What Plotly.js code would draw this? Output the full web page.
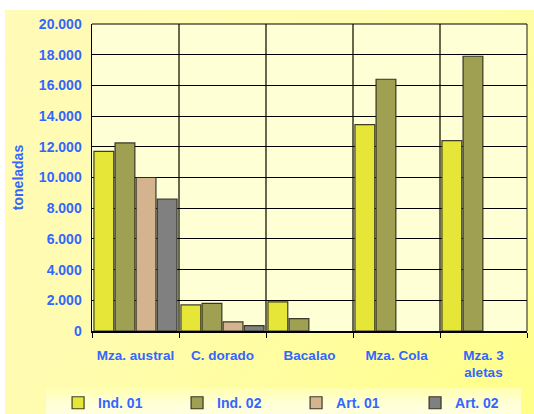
<!DOCTYPE html>
<html>
<head>
<meta charset="utf-8">
<script src="https://cdn.plot.ly/plotly-3.0.1.min.js"></script>
<style>
  html, body { margin:0; padding:0; background:#fff; }
  #bg { position:absolute; left:5px; top:10px; width:529px; height:404px;
        background: linear-gradient(135deg, #fffbb8 0%, #fffcb0 45%, #ffff88 100%); }
  #band { position:absolute; left:46px; top:388px; width:475px; height:26px;
          background: linear-gradient(180deg, #ffffb0 0%, #ffffd8 60%, #ffffe0 100%); }
  #chart { position:absolute; left:0; top:0; width:534px; height:414px; }
</style>
</head>
<body>
<div id="bg"></div>
<div id="band"></div>
<div id="chart"></div>
<script>
const categories = ["Mza. austral", "C. dorado", "Bacalao", "Mza. Cola", "Mza. 3<br>aletas"];
const seriesNames = ["Ind. 01", "Ind. 02", "Art. 01", "Art. 02"];
const ind01 = [11700, 1700, 1900, 13450, 12400];
const ind02 = [12250, 1800, 800, 16400, 17900];
const art01 = [10000, 600, null, null, null];
const art02 = [8600, 350, null, null, null];
const yTicks = [0, 2000, 4000, 6000, 8000, 10000, 12000, 14000, 16000, 18000, 20000];

const colors = ["#e6e638", "#a0a052", "#d4b48e", "#808080"];
const values = [ind01, ind02, art01, art02];

const traces = values.map((v, i) => ({
  type: "bar",
  name: seriesNames[i],
  x: categories,
  y: v,
  marker: { color: colors[i], line: { color: "rgba(30,30,20,0.85)", width: 1.2 } },
  hoverinfo: "none"
}));

const blue = "#3366ff";
const fam = "Liberation Sans, Arial, sans-serif";
const layout = {
  width: 534, height: 414,
  margin: { l: 92, r: 7, t: 24, b: 83, autoexpand: false },
  paper_bgcolor: "rgba(0,0,0,0)",
  plot_bgcolor: "#ffffd6",
  separators: ",.",
  barmode: "group",
  bargap: 0.03,
  bargroupgap: 0.06,
  font: { family: fam, color: blue, size: 12 },
  xaxis: {
    type: "category",
    tickson: "boundaries",
    tickangle: 0,
    ticks: "outside", ticklen: 5, tickcolor: "#000",
    showgrid: true, gridcolor: "rgba(40,40,20,0.7)", gridwidth: 1.5,
    showline: true, linecolor: "#000", linewidth: 1.5,
    ticklabelstandoff: 11,
    tickfont: { family: fam, size: 13.5, color: blue, weight: "bold" }
  },
  yaxis: {
    range: [0, 20000],
    tickvals: yTicks,
    tickformat: ",d",
    showgrid: true, gridcolor: "#000", gridwidth: 1,
    showline: true, linecolor: "#000", linewidth: 1.5,
    zeroline: false,
    ticks: "",
    ticklabelstandoff: 6,
    tickfont: { family: fam, size: 14, color: blue, weight: "bold" },
    title: { text: "toneladas", standoff: 12,
             font: { family: fam, size: 14, color: blue, weight: "bold" } }
  },
  showlegend: true,
  legend: {
    orientation: "h",
    x: -0.078, xanchor: "left",
    y: -0.235, yanchor: "middle",
    entrywidth: 74,
    bgcolor: "rgba(0,0,0,0)",
    font: { family: fam, size: 14, color: blue, weight: "bold" },
    traceorder: "normal",
    itemwidth: 30
  },
  shapes: [
    { type: "line", xref: "paper", yref: "paper", x0: 1, x1: 1, y0: 0, y1: 1,
      line: { color: "rgba(40,40,20,0.7)", width: 1.5 } },
    { type: "line", xref: "paper", yref: "paper", x0: 0, x1: 1, y0: 1, y1: 1,
      line: { color: "#000", width: 1 } }
  ]
};

Plotly.newPlot("chart", traces, layout, { displayModeBar: false, staticPlot: true });
</script>
</body>
</html>
